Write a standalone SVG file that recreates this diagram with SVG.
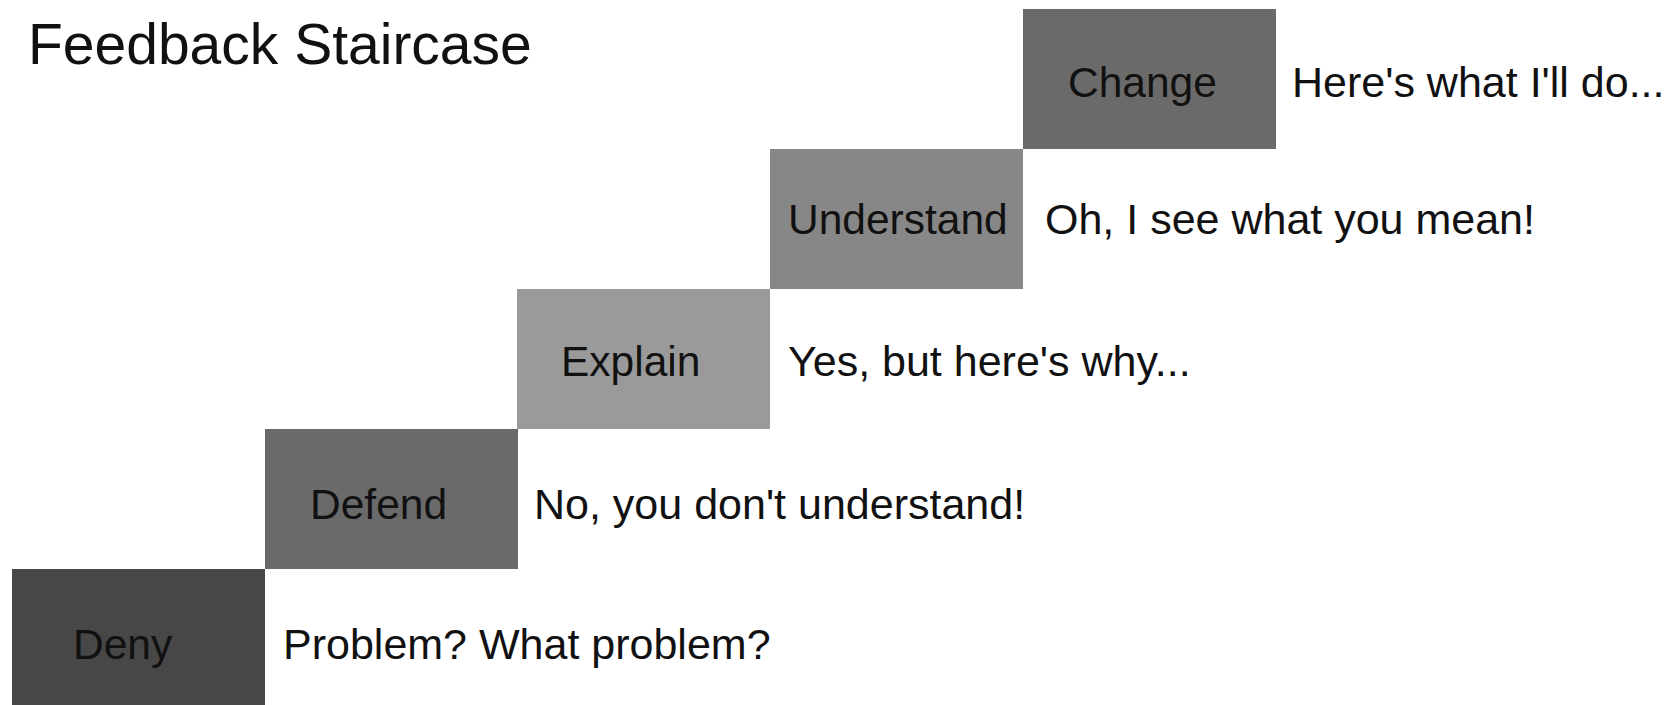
<svg xmlns="http://www.w3.org/2000/svg" width="1676" height="705" viewBox="0 0 1676 705">
<style>
text{font-family:"Liberation Sans",Arial,sans-serif;fill:#111111}
.lbl{font-size:42.5px}
.say{font-size:43px}
.title{font-size:57px}
</style>
<rect x="0" y="0" width="1676" height="705" fill="#ffffff"/>
<text class="title" x="28" y="64">Feedback Staircase</text>
<g id="deny">
<rect x="12" y="569" width="253" height="136" fill="#474747"/>
<text class="lbl" x="73" y="659">Deny</text>
<text class="say" x="283" y="659">Problem? What problem?</text>
</g>
<g id="defend">
<rect x="265" y="429" width="253" height="140" fill="#6a6a6a"/>
<text class="lbl" x="310" y="519">Defend</text>
<text class="say" x="534" y="519">No, you don't understand!</text>
</g>
<g id="explain">
<rect x="517" y="289" width="253" height="140" fill="#9a9a9a"/>
<text class="lbl" x="561" y="376">Explain</text>
<text class="say" x="788" y="376">Yes, but here's why...</text>
</g>
<g id="understand">
<rect x="770" y="149" width="253" height="140" fill="#878787"/>
<text class="lbl" x="788" y="234">Understand</text>
<text class="say" x="1045" y="234">Oh, I see what you mean!</text>
</g>
<g id="change">
<rect x="1023" y="9" width="253" height="140" fill="#6a6a6a"/>
<text class="lbl" x="1068" y="97">Change</text>
<text class="say" x="1292" y="97">Here's what I'll do...</text>
</g>
<g id="connectors"></g>
</svg>
